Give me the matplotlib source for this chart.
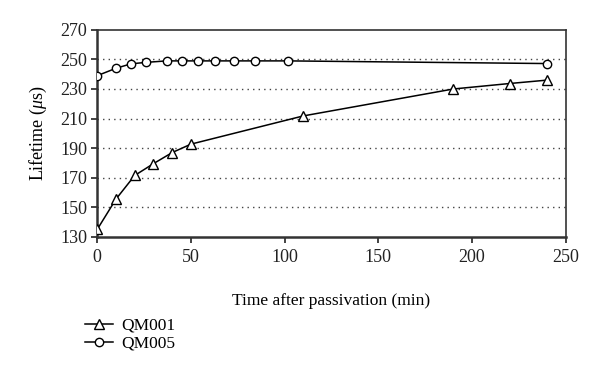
import matplotlib.pyplot as plt
from matplotlib.lines import Line2D

plt.rcParams['font.family'] = ['Liberation Serif', 'DejaVu Serif']
plt.rcParams['mathtext.fontset'] = 'custom'
plt.rcParams['mathtext.it'] = 'Liberation Serif:italic'
plt.rcParams['mathtext.rm'] = 'Liberation Serif'

qm001_t = [0, 10, 20, 30, 40, 50, 110, 190, 220, 240]
qm001_v = [135, 155.5, 171.5, 179.5, 187, 192.7, 211.8, 230, 233.7, 236]

qm005_t = [0, 10, 18, 26, 37, 45, 54, 63, 73, 84, 102, 240]
qm005_v = [239, 244, 247, 248, 249, 249, 249, 249, 249, 249, 249, 247.2]

xticks = [0, 50, 100, 150, 200, 250]
yticks = [130, 150, 170, 190, 210, 230, 250, 270]

fig = plt.figure(figsize=(6, 3.73), dpi=100)
ax = fig.add_axes([0.162, 0.365, 0.781, 0.555])

for y in yticks[1:-1]:
    ax.axhline(y, color='#444444', lw=1.0, ls=(0, (1, 3)), zorder=1)

ax.plot(qm001_t, qm001_v, color='black', lw=1.1, marker='^', ms=6.5,
        mfc='white', mec='black', mew=1.0, zorder=3)
ax.plot(qm005_t, qm005_v, color='black', lw=1.1, marker='o', ms=6,
        mfc='white', mec='black', mew=1.0, zorder=3)

ax.set_xlim(0, 250)
ax.set_ylim(130, 270)
ax.set_xticks(xticks)
ax.set_yticks(yticks)
ax.tick_params(direction='out', length=4, width=1.2, labelsize=13, colors='#222222')
ax.tick_params(axis='x', pad=5)
ax.tick_params(axis='y', pad=3)
for s in ax.spines.values():
    s.set_color('#333333')
    s.set_linewidth(1.2)
ax.spines['left'].set_linewidth(1.8)
ax.spines['bottom'].set_linewidth(1.8)

ax.set_xlabel('Time after passivation (min)', fontsize=12.5, labelpad=19)
ax.set_ylabel(r'Lifetime ($\mu$s)', fontsize=13, labelpad=8)

handles = [
    Line2D([], [], color='black', lw=1.1, marker='^', ms=6.5, mfc='white', mec='black'),
    Line2D([], [], color='black', lw=1.1, marker='o', ms=6, mfc='white', mec='black'),
]
fig.legend(handles, ['QM001', 'QM005'], loc='upper left',
           bbox_to_anchor=(0.127, 0.172), frameon=False, fontsize=12.5,
           handlelength=1.6, handletextpad=0.5, labelspacing=0.12,
           borderpad=0)

fig.savefig('out.png', dpi=100)
